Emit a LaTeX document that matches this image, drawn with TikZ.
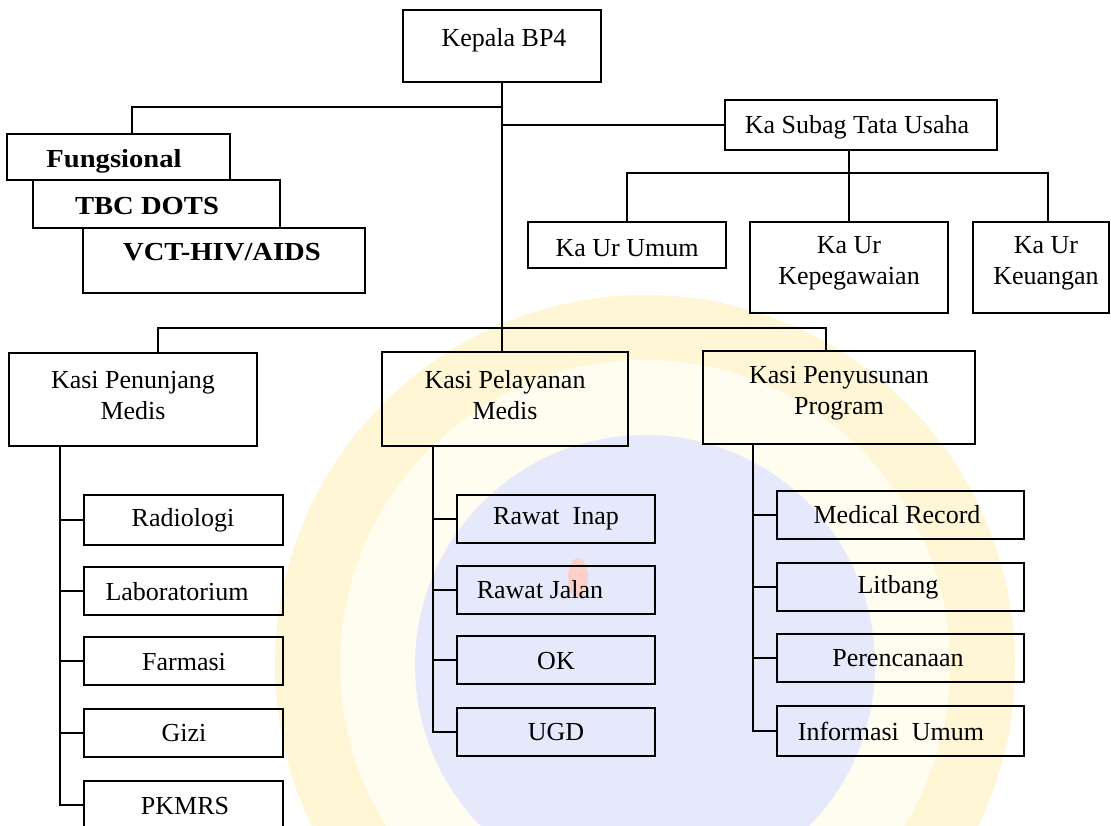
\documentclass[tikz,border=0pt]{standalone}
\usepackage{fontspec}
\setmainfont{Liberation Serif}
\usetikzlibrary{calc}

\definecolor{wmyellow}{RGB}{255,246,214}
\definecolor{wmpale}{RGB}{255,252,240}
\definecolor{wmblue}{RGB}{230,233,251}
\definecolor{wmred}{RGB}{250,208,200}

\tikzset{
  orgbox/.style={draw=black, line width=1.8pt, inner sep=0pt, outer sep=0pt},
  lbl/.style={inner sep=0pt, align=center, font=\fontsize{26}{31}\selectfont},
  blbl/.style={inner sep=0pt, align=center, font=\fontsize{26}{31}\selectfont\bfseries},
  link/.style={draw=black, line width=1.8pt, line cap=rect}
}

% box: name, x1, y1, x2, y2, text x, text y, text
\newcommand{\obox}[8]{%
  \node[orgbox, minimum width={(#4-#2)*1pt}, minimum height={(#5-#3)*1pt}]
    (#1) at ({(#2+#4)/2},{(#3+#5)/2}) {};
  \node[lbl] (#1-t) at (#6,#7) {#8};}
% bold variant, slightly widened
\newcommand{\bbox}[8]{%
  \node[orgbox, minimum width={(#4-#2)*1pt}, minimum height={(#5-#3)*1pt}]
    (#1) at ({(#2+#4)/2},{(#3+#5)/2}) {};
  \node[blbl] (#1-t) at (#6,#7) {\scalebox{1.1}[1]{#8}};}

\begin{document}
\begin{tikzpicture}[x=1pt, y=-1pt]
\clip (0,0) rectangle (1111,825);
\fill[white] (0,0) rectangle (1111,825);

% faint seal in the background
\fill[wmyellow] (645,665) circle (370);
\fill[wmpale] (645,665) circle (305);
\fill[wmblue] (645,665) circle (230);
\fill[wmred] (578,578) ellipse (10 and 20);

% head
\obox{kepala}{403}{10}{601}{82}{504}{40}{Kepala BP4}

% functional group
\bbox{fung}{7}{134}{230}{180}{114}{161}{Fungsional}
\bbox{tbc}{33}{180}{280}{228}{147}{206}{TBC DOTS}
\bbox{vct}{83}{228}{365}{293}{222}{252}{VCT-HIV/AIDS}

% administration
\obox{subag}{725}{100}{997}{150}{857}{127}{Ka Subag Tata Usaha}
\obox{umum}{528}{222}{726}{268}{627}{248}{Ka Ur Umum}
\obox{kepeg}{750}{222}{948}{313}{849}{263}{Ka Ur\\Kepegawaian}
\obox{keu}{973}{222}{1109}{313}{1046}{263}{Ka Ur\\Keuangan}

% sections
\obox{pen}{9}{353}{257}{446}{133}{396}{Kasi Penunjang\\Medis}
\obox{pel}{382}{352}{628}{446}{505}{395}{Kasi Pelayanan\\Medis}
\obox{pny}{703}{351}{975}{444}{839}{393}{Kasi Penyusunan\\Program}

% units under Kasi Penunjang Medis
\obox{rad}{84}{495}{283}{545}{183}{520}{Radiologi}
\obox{lab}{84}{567}{283}{615}{177}{592}{Laboratorium}
\obox{far}{84}{637}{283}{685}{184}{662}{Farmasi}
\obox{gizi}{84}{709}{283}{757}{184}{733}{Gizi}
\obox{pk}{84}{781}{283}{829}{185}{806}{PKMRS}

% units under Kasi Pelayanan Medis
\obox{ri}{457}{495}{655}{543}{556}{519}{Rawat\ \ Inap}
\obox{rj}{457}{566}{655}{614}{540}{590}{Rawat Jalan}
\obox{ok}{457}{636}{655}{684}{556}{661}{OK}
\obox{ugd}{457}{708}{655}{756}{556}{732}{UGD}

% units under Kasi Penyusunan Program
\obox{mr}{777}{491}{1024}{539}{897}{515}{Medical Record}
\obox{lit}{777}{563}{1024}{611}{898}{587}{Litbang}
\obox{per}{777}{634}{1024}{682}{898}{658}{Perencanaan}
\obox{inf}{777}{706}{1024}{756}{891}{731}{Informasi\ \ Umum}

% junction points
\coordinate (jL) at (132,107);
\coordinate (jU) at (627,173);
\coordinate (jK) at (1048,173);
\coordinate (bL) at (158,328);
\coordinate (bR) at (826,328);
\coordinate (vL) at (60,446);
\coordinate (vM) at (433,446);
\coordinate (vR) at (753,444);

% trunk and branches from the head
\draw[link] (kepala.south) -- (kepala.south |- pel.north);
\draw[link] (kepala.south |- jL) -- (jL) -- (jL |- fung.north);
\draw[link] (kepala.south |- subag.west) -- (subag.west);

% administration tree
\draw[link] (kepeg.north |- subag.south) -- (kepeg.north);
\draw[link] (jU) -- (jK);
\draw[link] (jU) -- (umum.north);
\draw[link] (jK) -- (jK |- keu.north);

% sections bar
\draw[link] (bL |- pen.north) -- (bL) -- (bR) -- (bR |- pny.north);

% unit ladders
\draw[link] (vL) |- (pk.west);
\foreach \u in {rad,lab,far,gizi} \draw[link] (vL |- \u.west) -- (\u.west);
\draw[link] (vM) |- (ugd.west);
\foreach \u in {ri,rj,ok} \draw[link] (vM |- \u.west) -- (\u.west);
\draw[link] (vR) |- (inf.west);
\foreach \u in {mr,lit,per} \draw[link] (vR |- \u.west) -- (\u.west);
\end{tikzpicture}
\end{document}
